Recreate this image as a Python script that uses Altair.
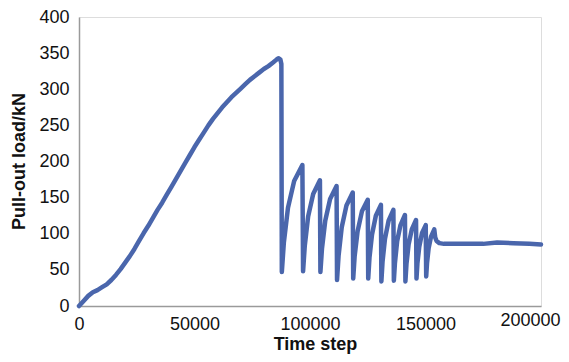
import altair as alt
import pandas as pd

# Time step values
time_step = [
    0, 2000, 4000, 6000, 8000, 10000, 12000, 14000, 16000, 18000,
    20000, 22000, 24000, 26000, 28000, 30000, 32000, 34000, 36000, 38000,
    40000, 42000, 44000, 46000, 48000, 50000, 52000, 54000, 56000, 58000,
    60000, 62000, 64000, 66000, 68000, 70000, 72000, 74000, 76000, 78000,
    80000, 82000, 84000, 85500, 86300, 87200, 87600,
    87800, 88690, 90470, 93140, 96700,
    97000, 97730, 99190, 101380, 104300,
    104500, 105200, 106600, 108700, 111500,
    111700, 112380, 113740, 115780, 118500,
    118700, 119330, 120590, 122480, 125000,
    125200, 125750, 126850, 128500, 130700,
    130900, 131420, 132460, 134020, 136100,
    136300, 136780, 137740, 139180, 141100,
    141300, 141760, 142680, 144060, 145900,
    146100, 146500, 147300, 148500, 150100,
    150300, 150650, 151350, 152400, 153800,
    154200, 154800, 156000, 158000, 165000, 175000, 181000, 188000, 195000, 200000,
]

# Pull-out load values in kN
load_kn = [
    0, 7, 14, 19, 22, 26, 30, 36, 43, 51,
    60, 69, 79, 90, 101, 111, 122, 133, 143, 154,
    165, 176, 187, 198, 209, 220, 230, 240, 250, 259,
    267, 275, 282, 289, 295, 301, 307, 313, 318, 323,
    328, 332, 337, 341, 343, 341, 335,
    47, 88, 136, 173, 195,
    48, 83, 124, 155, 174,
    47, 80, 118, 148, 166,
    36, 70, 109, 139, 157,
    38, 69, 103, 131, 147,
    38, 67, 99, 125, 140,
    34, 62, 93, 118, 133,
    35, 60, 90, 112, 126,
    34, 58, 85, 106, 119,
    38, 59, 82, 101, 112,
    41, 59, 80, 96, 106,
    95, 90, 87, 86, 86, 86, 88, 87, 86, 85,
]

x_ticks = [0, 50000, 100000, 150000, 200000]
y_ticks = [0, 50, 100, 150, 200, 250, 300, 350, 400]

df = pd.DataFrame({"step": time_step, "load": load_kn, "idx": list(range(len(time_step)))})

FONT = "Liberation Sans"
LAST = "datum.value == 200000"

chart = alt.Chart(df).mark_line(
    color="#4a66ac", strokeWidth=4.5, strokeJoin="round", strokeCap="round"
).encode(
    x=alt.X(
        "step:Q",
        scale=alt.Scale(domain=[0, 200000], nice=False),
        axis=alt.Axis(
            title="Time step",
            values=x_ticks,
            format="d",
            grid=False,
            ticks=False,
            domainColor="#9a9a9a",
            domainWidth=1.5,
            labelFont=FONT,
            labelFontSize=18,
            labelColor="#111111",
            labelAlign={"condition": {"test": LAST, "value": "right"}, "value": "center"},
            labelPadding={"condition": {"test": LAST, "value": 5}, "value": 9},
            labelOffset={"condition": {"test": LAST, "value": 19}, "value": 0},
            labelFlush=False,
            labelOverlap=False,
            labelBound=False,
            titleFont=FONT,
            titleFontSize=18,
            titleFontWeight="bold",
            titleColor="#111111",
            titleBaseline="alphabetic",
            titleY=43,
            titleX=236,
        ),
    ),
    y=alt.Y(
        "load:Q",
        scale=alt.Scale(domain=[0, 400], nice=False),
        axis=alt.Axis(
            title="Pull-out load/kN",
            values=y_ticks,
            grid=False,
            ticks=False,
            domainColor="#9a9a9a",
            domainWidth=1.5,
            labelFont=FONT,
            labelFontSize=18,
            labelColor="#111111",
            labelPadding=10,
            labelOverlap=False,
            titleFont=FONT,
            titleFontSize=18,
            titleFontWeight="bold",
            titleColor="#111111",
            titleBaseline="alphabetic",
            titleX=-55,
            titleY=144,
        ),
    ),
    order="idx:Q",
).properties(
    width=462,
    height=289,
    autosize=alt.AutoSizeParams(type="none"),
    padding={"left": 71, "top": 9, "right": 20, "bottom": 48},
).configure_view(stroke=None).configure(background="white")

chart.save("out.html", embed_options={"renderer": "svg", "actions": False})
